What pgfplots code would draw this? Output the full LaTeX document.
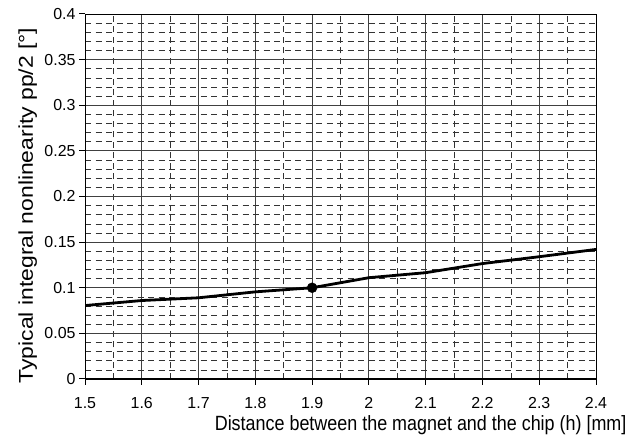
\documentclass[border=0pt]{standalone}
\usepackage{fontspec}
\setmainfont{Liberation Sans}
\usepackage{pgfplots}
\pgfplotsset{compat=1.18}
\begin{document}
\begin{tikzpicture}
\begin{axis}[
  scale only axis, width=511bp, height=365bp,
  xmin=1.5, xmax=2.4, ymin=0, ymax=0.4,
  xtick={1.5,1.6,1.7,1.8,1.9,2.0,2.1,2.2,2.3,2.4},
  ytick={0,0.05,0.1,0.15,0.2,0.25,0.3,0.35,0.4},
  minor x tick num=1, minor y tick num=4,
  grid=both,
  major grid style={black!75, line width=0.8bp},
  minor grid style={black!80, dash pattern=on 6bp off 4.5bp, line width=0.6bp},
  axis line style={line width=0.6bp},
  tick align=outside, tick pos=left,
  major tick length=6bp, minor tick length=0pt,
  tick style={black, line width=1bp},
  ticklabel style={font=\fontsize{16}{17}\selectfont},
  /pgf/number format/assume math mode=true,
  yticklabel style={/pgf/number format/fixed, /pgf/number format/precision=2},
  xticklabel style={/pgf/number format/fixed, /pgf/number format/precision=1, yshift=-9bp},
  xlabel={\scalebox{1}[1.15]{Distance between the magnet and the chip (h) [mm]}},
  ylabel={\scalebox{1.15}[1]{Typical integral nonlinearity pp/2 [°]}},
  xlabel style={font=\fontsize{18}{20}\selectfont, at={(rel axis cs:1,0)}, anchor=base east, xshift=34bp, yshift=-52bp},
  ylabel style={font=\fontsize{20}{22}\selectfont, at={([xshift=-52bp,yshift=-9bp]rel axis cs:0,0.5)}, anchor=base},
]
\addplot[black, line width=2.8bp] coordinates {
  (1.5,0.0805) (1.6,0.086) (1.7,0.089) (1.8,0.0955) (1.9,0.1)
  (2.0,0.111) (2.1,0.1165) (2.2,0.1265) (2.3,0.134) (2.4,0.142)
};
\addplot[only marks, mark=*, mark size=5bp, black] coordinates {(1.9,0.1)};
\draw[line width=2bp, black] (rel axis cs:0,1) -- (rel axis cs:0,0) -- (rel axis cs:1,0);
\coordinate (ll) at (rel axis cs:0,0);
\coordinate (ur) at (rel axis cs:1,1);
\end{axis}
\pgfresetboundingbox
\path ([shift={(-85bp,-60bp)}]ll) rectangle ([shift={(38bp,14bp)}]ur);
\end{tikzpicture}
\end{document}
